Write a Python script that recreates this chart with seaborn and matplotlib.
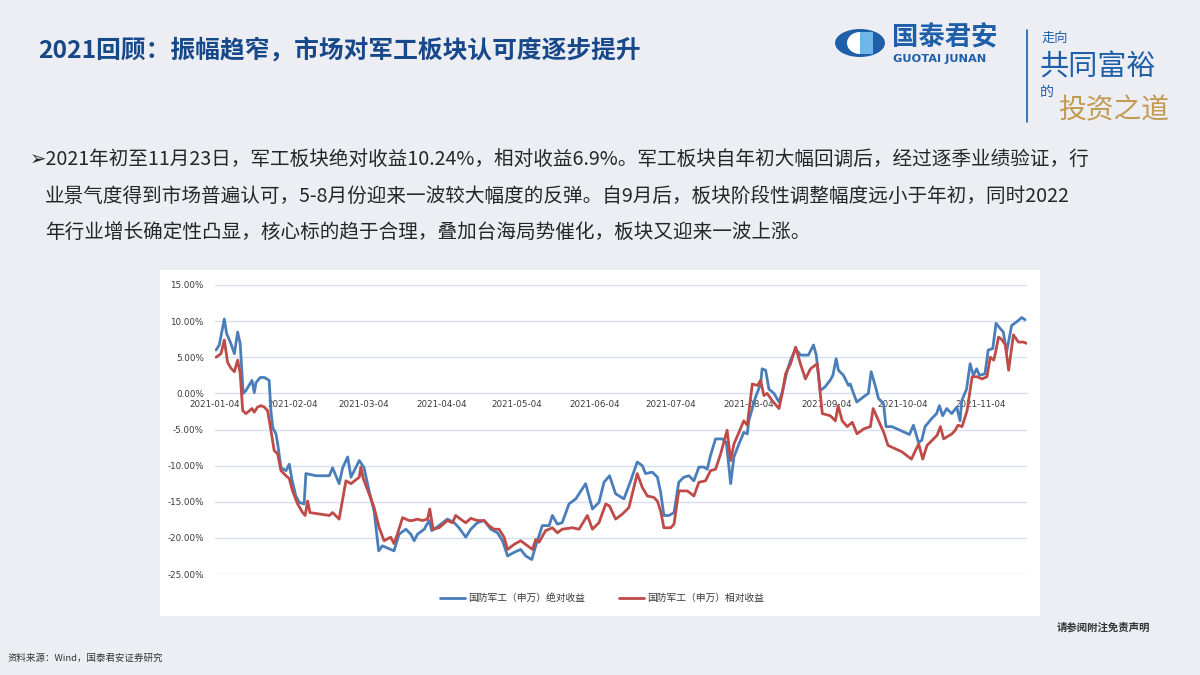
import numpy as np
import pandas as pd
import matplotlib
matplotlib.use("Agg")
import matplotlib.pyplot as plt
import matplotlib.dates as mdates
from matplotlib.patches import Ellipse, Rectangle
import seaborn as sns

# ---------------- data (days after 2021-01-04, return in %) ----------------
START = "2021-01-04"
abs_days = [0.4, 1.7, 3.7, 4.6, 6.3, 7.7, 9.0, 10.0, 11.2, 12.3, 14.7, 15.6, 16.3, 18.0, 19.6, 21.5,
            22.2, 22.9, 24.2, 24.9, 26.2, 28.2, 29.5, 30.6, 32.1, 33.5, 35.4, 36.1, 40.1, 45.4, 46.7,
            49.3, 50.7, 52.7, 54.0, 57.3, 59.2, 61.2, 63.2, 65.0, 66.5, 68.5, 71.1, 73.1, 75.8, 77.8,
            79.1, 80.4, 83.1, 85.0, 86.1, 89.0, 92.3, 95.0, 96.9, 99.6, 101.6, 104.2, 106.9, 109.5,
            112.2, 114.2, 116.2, 118.8, 121.4, 123.4, 125.8, 127.4, 130.0, 132.7, 134.0, 136.0, 137.9,
            140.6, 143.3, 147.2, 149.9, 152.5, 154.5, 156.7, 159.1, 162.4, 165.1, 167.7, 169.7, 171.0,
            173.7, 175.7, 177.0, 178.3, 180.3, 182.3, 184.2, 186.2, 188.2, 190.2, 192.2, 194.2, 195.5,
            196.8, 198.8, 201.5, 203.1, 204.8, 206.1, 208.1, 210.0, 211.4, 212.0, 213.4, 214.7, 216.7,
            217.3, 218.7, 220.0, 222.0, 224.0, 225.3, 227.3, 228.6, 230.6, 232.5, 234.5, 235.7, 237.7,
            238.8, 240.4, 242.3, 244.3, 245.4, 246.7, 247.6, 249.6, 251.6, 252.3, 253.6, 254.9, 257.5,
            259.5, 260.6, 262.2, 263.5, 265.5, 266.5, 268.8, 272.1, 275.8, 277.4, 279.4, 280.7, 282.0,
            284.6, 286.6, 287.7, 289.0, 290.6, 292.6, 294.6, 295.9, 296.6, 298.5, 299.9, 301.2, 302.5,
            303.6, 305.8, 307.1, 308.9, 310.2, 311.8, 313.1, 314.4, 316.4, 318.4, 320.4, 321.7]
abs_vals = [6.0, 6.7, 10.3, 8.3, 6.9, 5.5, 8.5, 6.9, 0.0, 0.4, 1.8, 0.1, 1.5, 2.2, 2.2, 1.8,
            -2.4, -4.7, -5.6, -7.0, -10.3, -10.7, -9.8, -12.0, -14.2, -15.1, -15.3, -11.1, -11.4, -11.4, -10.3,
            -12.5, -10.3, -8.8, -11.6, -9.3, -10.3, -13.5, -16.3, -21.8, -21.1, -21.4, -21.8, -19.5, -18.8, -19.5,
            -20.4, -19.5, -18.8, -17.6, -19.0, -18.3, -17.4, -17.9, -18.6, -19.9, -18.8, -17.9, -17.6, -18.8,
            -19.3, -20.4, -22.5, -22.0, -21.6, -22.5, -23.0, -21.1, -18.3, -18.3, -16.9, -18.1, -17.9,
            -15.3, -14.6, -12.5, -16.0, -15.1, -12.3, -11.4, -13.9, -14.6, -12.1, -9.5, -10.0, -11.1,
            -10.9, -11.6, -13.7, -16.9, -16.9, -16.5, -12.3, -11.6, -11.4, -12.1, -10.2, -10.2, -10.5,
            -8.6, -6.3, -6.3, -6.8, -12.5, -8.8, -7.0, -5.4, -5.6, -3.8, -2.1, -0.5, 1.3,
            3.4, 3.2, 0.6, 0.0, -1.2, 0.2, 3.2, 4.6, 6.2, 5.3, 5.3, 5.3, 6.7,
            5.3, 0.4, 0.9, 1.8, 2.5, 4.8, 3.2, 2.5, 1.1, 1.3, 0.0, -1.2, -0.5,
            0.0, 3.0, 1.1, -0.7, -1.4, -4.6, -4.6, -5.1, -5.7, -4.4, -6.8, -6.5, -4.6,
            -3.5, -2.8, -1.7, -3.1, -2.1, -2.8, -1.9, -3.8, -1.0, 0.6, 4.1, 2.5, 3.4,
            2.5, 2.7, 6.0, 6.2, 9.7, 9.0, 8.5, 5.7, 9.4, 9.9, 10.5, 10.2]

rel_days = [0.4, 2.4, 3.7, 5.0, 6.3, 7.7, 9.0, 10.0, 11.0, 12.3, 14.7, 15.6, 16.9, 18.3, 19.6, 20.9,
            22.2, 23.5, 24.9, 26.2, 28.2, 29.5, 30.8, 32.8, 34.8, 35.8, 36.8, 37.7, 45.4, 46.7, 49.3,
            52.0, 54.0, 57.3, 57.9, 58.9, 61.2, 63.2, 65.2, 67.2, 69.8, 71.1, 72.5, 74.5, 77.1,
            78.5, 80.4, 82.4, 84.4, 85.3, 86.6, 89.0, 92.3, 94.3, 95.6, 98.3, 99.6, 101.6, 104.2,
            106.9, 108.8, 110.8, 112.8, 114.8, 116.2, 118.8, 121.4, 124.1, 126.1, 127.4, 128.7, 131.3,
            134.0, 136.0, 137.9, 141.9, 144.6, 147.9, 149.9, 152.5, 155.2, 156.7, 159.1, 161.8, 164.4,
            167.7, 169.7, 171.7, 174.3, 175.7, 177.0, 178.3, 181.0, 182.3, 184.2, 187.6, 190.2, 192.2,
            194.8, 196.8, 198.8, 200.8, 203.4, 204.8, 206.1, 208.1, 210.0, 211.4, 213.4, 215.4, 216.7,
            218.0, 219.3, 221.3, 224.0, 225.3, 226.6, 228.6, 230.6, 232.5, 234.5, 236.5, 239.2, 241.2,
            244.4, 246.4, 247.5, 249.1, 251.1, 253.1, 255.0, 257.7, 260.3, 261.4, 264.3, 265.6, 267.3,
            272.9, 276.6, 278.2, 279.5, 281.1, 282.8, 285.4, 286.8, 288.1, 289.4, 292.7, 294.0, 295.1,
            296.7, 298.7, 300.7, 302.7, 304.6, 306.6, 307.9, 309.3, 309.9, 311.2, 312.6, 313.9, 315.2,
            317.1, 319.1, 321.1, 322.5]
rel_vals = [5.0, 5.5, 7.4, 4.3, 3.5, 3.0, 4.6, 2.8, -2.4, -2.8, -2.1, -2.6, -1.9, -1.7, -1.9, -2.4,
            -5.1, -7.9, -8.4, -10.7, -11.4, -11.8, -13.5, -15.3, -16.5, -16.9, -14.9, -16.5, -16.9, -16.5, -17.4,
            -12.1, -12.5, -11.6, -10.2, -11.8, -13.9, -15.8, -18.6, -20.4, -19.9, -20.8, -19.4, -17.2, -17.6,
            -17.6, -17.4, -17.6, -17.4, -16.0, -18.8, -18.6, -17.6, -17.9, -16.9, -17.6, -17.9, -17.3, -17.6,
            -17.6, -18.3, -18.8, -18.8, -19.9, -21.6, -20.9, -20.4, -21.1, -21.6, -20.2, -20.6, -19.0,
            -18.6, -19.3, -18.8, -18.6, -18.8, -16.9, -18.8, -17.9, -15.3, -15.6, -17.4, -16.7, -15.8,
            -11.1, -13.0, -14.2, -14.4, -14.9, -16.3, -18.6, -18.6, -18.1, -13.5, -13.5, -14.2, -12.3,
            -12.1, -10.7, -10.5, -8.4, -5.1, -9.3, -7.0, -5.4, -3.8, -4.4, 1.3, 1.1, 1.8,
            -0.3, 0.0, -1.0, -2.1, 0.0, 2.7, 4.1, 6.4, 4.1, 2.0, 3.4, 4.1, -2.8,
            -3.1, -3.8, -1.7, -3.8, -4.6, -4.0, -5.6, -4.9, -4.6, -2.1, -4.4, -5.4, -7.2,
            -8.1, -9.1, -7.9, -7.0, -9.1, -7.2, -6.3, -5.8, -4.6, -6.3, -5.6, -5.1, -4.4,
            -4.6, -2.4, 2.3, 2.3, 2.0, 2.3, 5.0, 4.6, 5.5, 7.8, 7.4, 6.7, 3.2,
            8.1, 7.1, 7.1, 6.9]

series_names = ["国防军工（申万）绝对收益", "国防军工（申万）相对收益"]
series_colors = ["#4a7ebb", "#be4b48"]
y_ticks = [15, 10, 5, 0, -5, -10, -15, -20, -25]
x_tick_dates = ["2021-01-04", "2021-02-04", "2021-03-04", "2021-04-04", "2021-05-04", "2021-06-04",
                "2021-07-04", "2021-08-04", "2021-09-04", "2021-10-04", "2021-11-04"]

title = "2021回顾：振幅趋窄，市场对军工板块认可度逐步提升"
para = ["➢2021年初至11月23日，军工板块绝对收益10.24%，相对收益6.9%。军工板块自年初大幅回调后，经过逐季业绩验证，行",
        "业景气度得到市场普遍认可，5-8月份迎来一波较大幅度的反弹。自9月后，板块阶段性调整幅度远小于年初，同时2022",
        "年行业增长确定性凸显，核心标的趋于合理，叠加台海局势催化，板块又迎来一波上涨。"]

# ---------------- build frame ----------------
t0 = pd.Timestamp(START)
df = pd.concat([
    pd.DataFrame({"date": t0 + pd.to_timedelta(np.array(abs_days), unit="D"),
                  "value": abs_vals, "series": series_names[0]}),
    pd.DataFrame({"date": t0 + pd.to_timedelta(np.array(rel_days), unit="D"),
                  "value": rel_vals, "series": series_names[1]}),
], ignore_index=True)

sns.set_theme(style="white")
plt.rcParams["font.family"] = ["Noto Sans CJK SC", "DejaVu Sans"]
plt.rcParams["axes.unicode_minus"] = False

W, H = 1200, 675
fig = plt.figure(figsize=(12, 6.75), dpi=100)
fig.patch.set_facecolor("#eceef3")

def fx(px):
    return px / W

def fy(py):
    return 1 - py / H

# white chart panel as a background axes
bg = fig.add_axes([fx(160), fy(616), fx(1040) - fx(160), fy(270) - fy(616)], zorder=0)
bg.set_facecolor("white")
bg.set_xticks([])
bg.set_yticks([])
for s in bg.spines.values():
    s.set_visible(False)

ax = fig.add_axes([fx(215), fy(574), fx(1027) - fx(215), fy(285) - fy(574)], zorder=2)
ax.set_facecolor("none")

sns.lineplot(data=df, x="date", y="value", hue="series", palette=series_colors,
             hue_order=series_names, estimator=None, sort=False, linewidth=2.0, legend=False, ax=ax)

ax.set_ylim(-25, 15)
ax.set_xlim(t0, t0 + pd.Timedelta(days=322.5))
ax.set_yticks(y_ticks)
ax.set_yticklabels([f"{v:.2f}%" for v in y_ticks], fontsize=6.3, color="#3a3a3a",
                   family=["DejaVu Sans"])
for v in y_ticks:
    if v != 0:
        ax.axhline(v, color="#d6dff0", lw=1.0, zorder=0)
ax.tick_params(axis="y", length=0, pad=8)

ax.spines["bottom"].set_position(("data", 0))
ax.spines["bottom"].set_color("#d6dff0")
ax.spines["bottom"].set_linewidth(1.0)
ax.spines["bottom"].set_zorder(0)
for s in ["top", "right", "left"]:
    ax.spines[s].set_visible(False)
ax.set_xticks([pd.Timestamp(d) for d in x_tick_dates])
ax.xaxis.set_major_formatter(mdates.DateFormatter("%Y-%m-%d"))
ax.tick_params(axis="x", length=3, width=0.8, color="#d6dff0", direction="out", pad=1.5,
               labelsize=6.3, labelcolor="#3a3a3a")
for lab in ax.get_xticklabels():
    lab.set_family(["DejaVu Sans"])
ax.set_xlabel("")
ax.set_ylabel("")

lines = ax.get_lines()[:2]
leg = fig.legend(lines, series_names, loc="center", bbox_to_anchor=(fx(602), fy(598)), ncol=2,
                 frameon=False, fontsize=7, handlelength=2.6, columnspacing=3.5, handletextpad=0.3)
leg.set_zorder(5)
for t in leg.get_texts():
    t.set_color("#3a3a3a")

# ---------------- texts ----------------
fig.text(fx(38), fy(50), title, fontsize=17.8, fontweight="bold", color="#17488a",
         ha="left", va="center")

for i, line in enumerate(para):
    x0 = 30 if i == 0 else 45
    fig.text(fx(x0), fy(160 + 36.5 * i), line, fontsize=14.1, color="#262626", ha="left", va="center",
             family=["Noto Sans CJK SC", "DejaVu Sans"])

fig.text(fx(1150), fy(627), "请参阅附注免责声明", fontsize=7.5, fontweight="bold", color="#333333",
         ha="right", va="center")
fig.text(fx(8), fy(658), "资料来源：Wind，国泰君安证券研究", fontsize=6.8, color="#333333",
         ha="left", va="center")

# ---------------- logo ----------------
blue = "#1f5fa9"
fig.patches.append(Ellipse((fx(860), fy(43)), fx(50), fy(0) - fy(28), transform=fig.transFigure,
                           facecolor=blue, edgecolor="none", zorder=2))
fig.patches.append(Ellipse((fx(860), fy(43)), fx(26), fy(0) - fy(22), transform=fig.transFigure,
                           facecolor="white", edgecolor="none", zorder=3))
fig.patches.append(Rectangle((fx(860), fy(54)), fx(13), fy(0) - fy(22), transform=fig.transFigure,
                             facecolor="#6fb6e8", edgecolor="none", zorder=4))
fig.text(fx(892), fy(38), "国泰君安", fontsize=19, fontweight="bold", color=blue, ha="left", va="center")
fig.text(fx(893), fy(59), "GUOTAI JUNAN", fontsize=8.2, fontweight="bold", color=blue, ha="left",
         va="center", family=["DejaVu Sans"])
fig.add_artist(plt.Line2D([fx(1027), fx(1027)], [fy(30), fy(122)], color=blue, lw=1.2,
                          transform=fig.transFigure))
fig.text(fx(1042), fy(38), "走向", fontsize=9.5, color=blue, ha="left", va="center")
fig.text(fx(1040), fy(68), "共同富裕", fontsize=21, color=blue, ha="left", va="center")
fig.text(fx(1040), fy(92), "的", fontsize=10, color=blue, ha="left", va="center")
fig.text(fx(1058), fy(110), "投资之道", fontsize=20, color="#c39a52", ha="left", va="center")

fig.savefig("out.png", dpi=100, facecolor=fig.get_facecolor())
